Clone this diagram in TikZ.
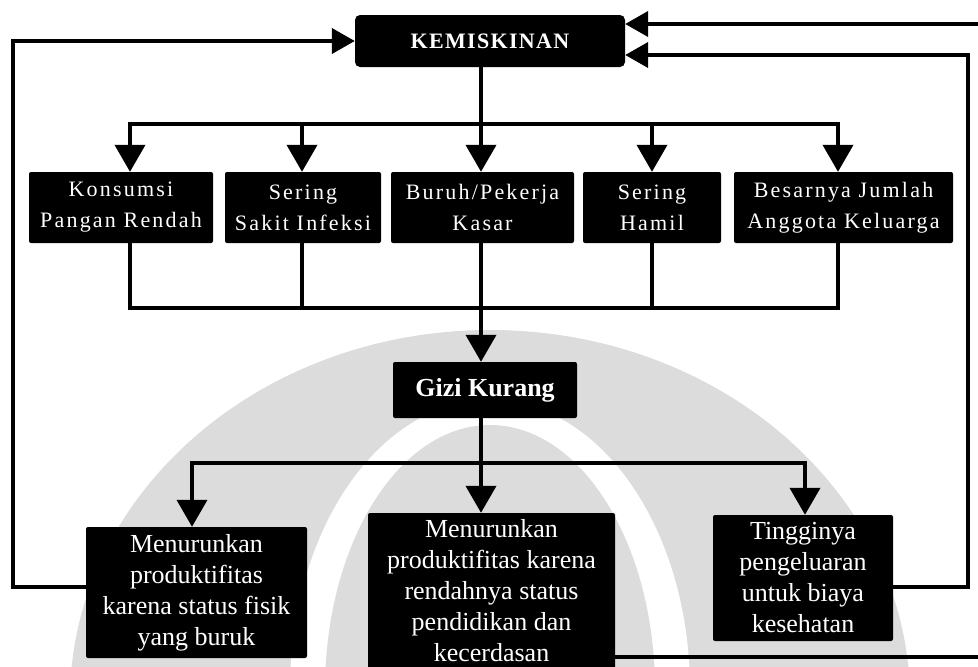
\documentclass[tikz,border=0pt]{standalone}
\usepackage{fontspec}
\setmainfont{Liberation Serif}
\usetikzlibrary{arrows.meta,calc}
\definecolor{wmgray}{RGB}{220,220,220}
\pgfdeclarelayer{wm}
\pgfdeclarelayer{bg}
\pgfsetlayers{wm,bg,main}

\begin{document}
\begin{tikzpicture}[x=1pt,y=-1pt,
  box/.style={fill=black,text=white,inner sep=0pt,align=center,rounded corners=2pt},
  headbox/.style={box,rounded corners=5pt,font=\fontsize{22}{28}\bfseries\addfontfeature{LetterSpace=6}},
  topbox/.style={box,font=\fontsize{22}{31}\selectfont\addfontfeature{LetterSpace=10}},
  midbox/.style={box,font=\fontsize{26}{31}\bfseries},
  lowbox/.style={box,font=\fontsize{26}{31}\selectfont},
  wire/.style={line width=4pt,line cap=rect},
  down/.style={wire,-{Triangle[width=30pt,length=27pt]}},
  side/.style={wire,-{Triangle[width=25pt,length=23pt]}},
]
\useasboundingbox (0,0) rectangle (978,667);

% faint emblem behind the chart
\begin{pgfonlayer}{wm}
  \fill[wmgray] (490,700) ellipse (420pt and 370pt);
  \fill[white] (490,690) ellipse (200pt and 290pt);
  \fill[wmgray] (490,690) ellipse (165pt and 265pt);
\end{pgfonlayer}

% boxes
\node[headbox,minimum width=270pt,minimum height=52pt] (kem) at (490,41) {KEMISKINAN};

\node[topbox,minimum width=184pt,minimum height=71pt] (b1) at (121,207.5) {Konsumsi\\Pangan Rendah};
\node[topbox,minimum width=156pt,minimum height=71pt] (b2) at (303,207.5) {Sering\\Sakit Infeksi};
\node[topbox,minimum width=183pt,minimum height=71pt] (b3) at (482.5,207.5) {Buruh/Pekerja\\Kasar};
\node[topbox,minimum width=138pt,minimum height=71pt] (b4) at (652,207.5) {Sering\\Hamil};
\node[topbox,minimum width=219pt,minimum height=71pt] (b5) at (843.5,207.5) {Besarnya Jumlah\\Anggota Keluarga};

\node[midbox,minimum width=184pt,minimum height=56pt] (gizi) at (485,390) {Gizi Kurang};

\node[lowbox,minimum width=221pt,minimum height=131pt] (L) at (196.5,592.5)
  {Menurunkan\\produktifitas\\karena status fisik\\yang buruk};
\node[lowbox,minimum width=247pt,minimum height=156pt] (M) at (491.5,591)
  {Menurunkan\\produktifitas karena\\rendahnya status\\pendidikan dan\\kecerdasan};
\node[lowbox,minimum width=180pt,minimum height=126pt] (T) at (803,578)
  {Tingginya\\pengeluaran\\untuk biaya\\kesehatan};

% columns and bus rows
\coordinate (c1) at (130,0);
\coordinate (c2) at (302,0);
\coordinate (c3) at (481,0);
\coordinate (c4) at (652,0);
\coordinate (c5) at (838,0);
\coordinate (d1) at (192,0);
\coordinate (d3) at (805,0);
\coordinate (busT) at (0,124);
\coordinate (busB) at (0,308);
\coordinate (busL) at (0,463);
\coordinate (xl) at (13,0);
\coordinate (xr) at (968,0);
\coordinate (k1) at ([yshift=17pt]kem.east);
\coordinate (k2) at ([yshift=-14pt]kem.east);
\coordinate (outTop) at (990,24);
\coordinate (outBot) at (990,657);

\begin{pgfonlayer}{bg}
  % from poverty to the five causes
  \draw[wire] (c3 |- kem.south) -- (c3 |- busT);
  \draw[wire] (c1 |- busT) -- (c5 |- busT);
  \foreach \i in {1,...,5}
    \draw[down] (c\i |- busT) -- (c\i |- b\i.north);
  % causes merge into malnutrition
  \foreach \i in {1,...,5}
    \draw[wire] (c\i |- b\i.south) -- (c\i |- busB);
  \draw[wire] (c1 |- busB) -- (c5 |- busB);
  \draw[down] (c3 |- busB) -- (c3 |- gizi.north);
  % malnutrition to its effects
  \draw[wire] (c3 |- gizi.south) -- (c3 |- busL);
  \draw[wire] (d1 |- busL) -- (d3 |- busL);
  \draw[down] (d1 |- busL) -- (d1 |- L.north);
  \draw[down] (c3 |- busL) -- (c3 |- M.north);
  \draw[down] (d3 |- busL) -- (d3 |- T.north);
  % feedback loops
  \draw[side] ([yshift=5.5pt]L.west) -| (xl |- kem.west) -- (kem.west);
  \draw[side] ([yshift=-9pt]T.east) -| (xr |- k2) -- (k2);
  \draw[side] (outTop) -- (k1);
  \draw[wire] (M.east |- outBot) -- (outBot);
\end{pgfonlayer}
\end{tikzpicture}
\end{document}
